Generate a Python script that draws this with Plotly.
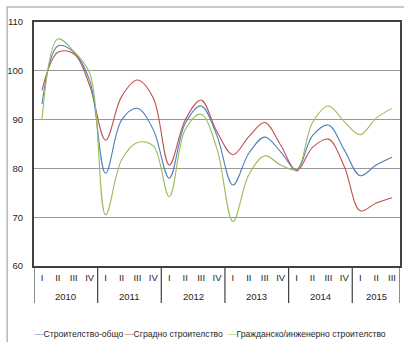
import plotly.graph_objects as go

# Quarterly indices, 2010 Q1 - 2015 Q3
quarters = ["I", "II", "III", "IV"] * 5 + ["I", "II", "III"]
years = ["2010", "2011", "2012", "2013", "2014", "2015"]
year_sizes = [4, 4, 4, 4, 4, 3]

total = [93.2, 105.1, 103.8, 98.0, 79.0, 89.9, 92.3, 87.9, 78.0, 89.2, 92.8, 86.7,
         76.6, 83.1, 86.4, 83.4, 79.7, 86.7, 88.9, 83.8, 78.5, 80.7, 82.3]
buildings = [96.0, 103.8, 103.5, 97.0, 85.8, 94.7, 98.1, 94.4, 80.7, 89.9, 94.0, 87.5,
             82.8, 86.5, 89.4, 84.8, 79.5, 84.3, 86.0, 80.4, 71.3, 72.9, 74.0]
civil = [89.9, 106.5, 104.0, 99.5, 70.5, 81.7, 85.3, 84.6, 74.2, 87.9, 91.1, 84.0,
         69.1, 78.7, 82.6, 80.7, 79.8, 89.4, 92.8, 89.6, 86.9, 90.3, 92.3]

names = ["Строителство-общо", "Сградно строителство", "Гражданско/инженерно строителство"]
colors = ["#4F81BD", "#C0504D", "#9BBB59"]

FONT = "Liberation Sans, Arial, sans-serif"
AXIS = "#404040"
TXT = "#262626"

x = list(range(len(quarters)))
fig = go.Figure()
for vals, name, col in zip([buildings, total, civil], [names[1], names[0], names[2]],
                           [colors[1], colors[0], colors[2]]):
    fig.add_trace(go.Scatter(x=x, y=vals, name=name, mode="lines",
                             line=dict(color=col, width=1.1, shape="spline", smoothing=1.0),
                             showlegend=False))

shapes = []
# outer chart frame
shapes.append(dict(type="rect", xref="paper", yref="paper", x0=-0.0734, x1=1.2,
                   y0=-0.6, y1=1.0615, line=dict(color="#b8b8b8", width=1.5), layer="below"))
# year group dividers under the axis
bounds = [-0.5]
for n in year_sizes:
    bounds.append(bounds[-1] + n)
for b in bounds:
    shapes.append(dict(type="line", xref="x", yref="paper", x0=b, x1=b, y0=0, y1=-0.152,
                       line=dict(color=AXIS, width=1.2)))

annotations = []
for i, (yr, n) in enumerate(zip(years, year_sizes)):
    annotations.append(dict(x=(bounds[i] + bounds[i + 1]) / 2, y=-0.127, xref="x", yref="paper",
                            text=yr, showarrow=False, font=dict(family=FONT, size=9.5, color=TXT),
                            xanchor="center", yanchor="middle"))

# legend row: coloured dash followed by the series name
leg_x = [33, 123, 227]
for px, name, col in zip(leg_x, names, colors):
    annotations.append(dict(x=(px - 34) / 368, y=-0.279, xref="paper", yref="paper",
                            text=f'<span style="color:{col}">—</span>{name}', showarrow=False,
                            font=dict(family=FONT, size=8.6, color=TXT),
                            xanchor="left", yanchor="middle"))

fig.update_layout(
    width=404, height=342,
    margin=dict(l=34, r=2, t=22, b=76),
    paper_bgcolor="white", plot_bgcolor="white",
    shapes=shapes, annotations=annotations,
    xaxis=dict(range=[-0.5, len(quarters) - 0.5], tickvals=x, ticktext=quarters,
               showgrid=False, zeroline=False, showline=True, linecolor=AXIS, linewidth=1.5,
               mirror=True, ticks="", tickfont=dict(family=FONT, size=9.5, color=TXT),
               ticklabelstandoff=2),
    yaxis=dict(range=[60, 110], dtick=10, showgrid=True, gridcolor="#999999", gridwidth=1,
               zeroline=False, showline=True, linecolor=AXIS, linewidth=2, mirror=True,
               ticks="", tickfont=dict(family=FONT, size=9.5, color=TXT),
               ticklabelstandoff=7),
)

fig.write_html("out.html")
